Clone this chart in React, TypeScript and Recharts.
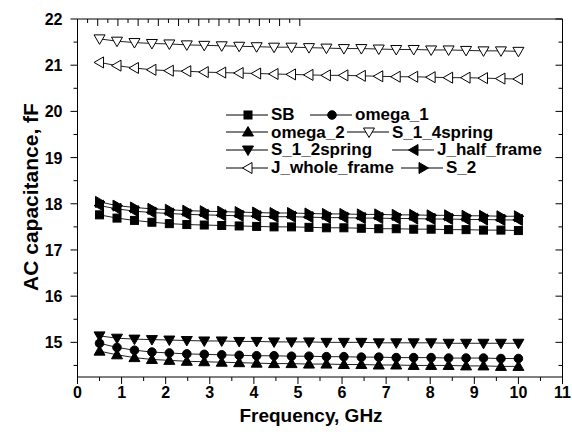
import React from 'react';
import { LineChart, Line, XAxis, YAxis, Legend } from 'recharts';

// frequency points, GHz
const freq = [0.5, 0.896, 1.292, 1.688, 2.083, 2.479, 2.875, 3.271, 3.667, 4.063, 4.458, 4.854, 5.25, 5.646, 6.042, 6.438, 6.833, 7.229, 7.625, 8.021, 8.417, 8.813, 9.208, 9.604, 10.0];

const SB = [17.76, 17.69, 17.64, 17.6, 17.57, 17.55, 17.54, 17.53, 17.52, 17.51, 17.5, 17.5, 17.49, 17.48, 17.48, 17.47, 17.46, 17.46, 17.45, 17.45, 17.44, 17.44, 17.43, 17.43, 17.42];
const omega1 = [14.98, 14.89, 14.83, 14.79, 14.77, 14.75, 14.74, 14.73, 14.72, 14.71, 14.71, 14.7, 14.7, 14.69, 14.69, 14.68, 14.68, 14.67, 14.67, 14.67, 14.66, 14.66, 14.66, 14.65, 14.65];
const omega2 = [14.81, 14.73, 14.67, 14.63, 14.61, 14.59, 14.58, 14.57, 14.56, 14.55, 14.54, 14.54, 14.53, 14.53, 14.52, 14.52, 14.51, 14.51, 14.5, 14.5, 14.5, 14.49, 14.49, 14.48, 14.48];
const s14spring = [21.57, 21.52, 21.49, 21.47, 21.46, 21.44, 21.43, 21.42, 21.41, 21.4, 21.39, 21.39, 21.38, 21.37, 21.36, 21.36, 21.35, 21.34, 21.34, 21.33, 21.33, 21.32, 21.31, 21.31, 21.3];
const s12spring = [15.14, 15.09, 15.07, 15.06, 15.05, 15.04, 15.03, 15.03, 15.02, 15.02, 15.01, 15.01, 15.01, 15.0, 15.0, 15.0, 14.99, 14.99, 14.99, 14.99, 14.98, 14.98, 14.98, 14.98, 14.98];
const jHalf = [17.96, 17.89, 17.84, 17.81, 17.79, 17.77, 17.76, 17.75, 17.74, 17.73, 17.72, 17.72, 17.71, 17.7, 17.7, 17.69, 17.69, 17.68, 17.68, 17.67, 17.67, 17.66, 17.66, 17.65, 17.65];
const jWhole = [21.06, 20.99, 20.94, 20.9, 20.88, 20.87, 20.85, 20.84, 20.83, 20.82, 20.81, 20.8, 20.79, 20.78, 20.78, 20.77, 20.76, 20.75, 20.75, 20.74, 20.73, 20.73, 20.72, 20.71, 20.7];
const s2 = [18.04, 17.96, 17.92, 17.89, 17.87, 17.85, 17.84, 17.83, 17.82, 17.81, 17.8, 17.8, 17.79, 17.78, 17.78, 17.77, 17.77, 17.76, 17.76, 17.75, 17.75, 17.74, 17.74, 17.73, 17.73];

const xTicks = [0, 0.5, 1, 1.5, 2, 2.5, 3, 3.5, 4, 4.5, 5, 5.5, 6, 6.5, 7, 7.5, 8, 8.5, 9, 9.5, 10, 10.5, 11];
const yTicks = [14.5, 15, 15.5, 16, 16.5, 17, 17.5, 18, 18.5, 19, 19.5, 20, 20.5, 21, 21.5, 22];

const series = [
  { key: 'SB', name: 'SB', values: SB, shape: 'square', open: false },
  { key: 'omega_1', name: 'omega_1', values: omega1, shape: 'circle', open: false },
  { key: 'omega_2', name: 'omega_2', values: omega2, shape: 'up', open: false },
  { key: 'S_1_4spring', name: 'S_1_4spring', values: s14spring, shape: 'down', open: true },
  { key: 'S_1_2spring', name: 'S_1_2spring', values: s12spring, shape: 'down', open: false },
  { key: 'J_half_frame', name: 'J_half_frame', values: jHalf, shape: 'left', open: false },
  { key: 'J_whole_frame', name: 'J_whole_frame', values: jWhole, shape: 'left', open: true },
  { key: 'S_2', name: 'S_2', values: s2, shape: 'right', open: false },
];

const data = freq.map((f, i) => {
  const row: any = { f };
  series.forEach(s => { row[s.key] = s.values[i]; });
  return row;
});

const FONT = '"Liberation Sans", Arial, sans-serif';
const isMajor = (v: number) => Math.abs(v - Math.round(v)) < 1e-6;

const Marker = ({ shape, open, cx, cy }: { shape: string; open: boolean; cx: number; cy: number }) => {
  const fill = open ? '#fff' : '#000';
  const common = { fill, stroke: '#000', strokeWidth: 1 };
  const a = 5.5, b = 4;
  if (shape === 'square') return <rect x={cx - 4} y={cy - 4} width={8} height={8} {...common} />;
  if (shape === 'circle') return <circle cx={cx} cy={cy} r={4.3} {...common} />;
  let pts = '';
  if (shape === 'up') pts = `${cx},${cy - a} ${cx + a},${cy + b} ${cx - a},${cy + b}`;
  if (shape === 'down') pts = `${cx - a},${cy - b} ${cx + a},${cy - b} ${cx},${cy + a}`;
  if (shape === 'left') pts = `${cx - a},${cy} ${cx + b},${cy - a} ${cx + b},${cy + a}`;
  if (shape === 'right') pts = `${cx + a},${cy} ${cx - b},${cy - a} ${cx - b},${cy + a}`;
  return <polygon points={pts} {...common} />;
};

const makeDot = (shape: string, open: boolean) => (props: any) => {
  const { cx, cy, index } = props;
  if (cx == null || cy == null) return <g key={index} />;
  return <Marker key={index} shape={shape} open={open} cx={cx} cy={cy} />;
};

const BottomTick = (props: any) => {
  const { x, y, payload } = props;
  const major = isMajor(payload.value);
  return (
    <g>
      <line x1={x} x2={x} y1={y} y2={y + (major ? 7 : 4)} stroke="#000" />
      {major && (
        <text x={x} y={y + 21} textAnchor="middle" fontFamily={FONT} fontWeight="bold" fontSize={16} fill="#000">
          {payload.value}
        </text>
      )}
    </g>
  );
};

const TopTick = (props: any) => {
  const { x, y, payload } = props;
  return <line x1={x} x2={x} y1={y} y2={y + (isMajor(payload.value) ? 7 : 4)} stroke="#000" />;
};

const LeftTick = (props: any) => {
  const { x, y, payload } = props;
  const major = isMajor(payload.value);
  return (
    <g>
      <line x1={x - (major ? 7 : 4)} x2={x} y1={y} y2={y} stroke="#000" />
      {major && (
        <text x={x - 15} y={y + 6} textAnchor="end" fontFamily={FONT} fontWeight="bold" fontSize={16} fill="#000">
          {payload.value}
        </text>
      )}
    </g>
  );
};

const RightTick = (props: any) => {
  const { x, y, payload } = props;
  return <line x1={x - (isMajor(payload.value) ? 7 : 4)} x2={x} y1={y} y2={y} stroke="#000" />;
};

// legend rows; second entry starts at its own offset, as in the original
const legendRows = [
  { items: ['SB', 'omega_1'], second: 84 },
  { items: ['omega_2', 'S_1_4spring'], second: 121 },
  { items: ['S_1_2spring', 'J_half_frame'], second: 166 },
  { items: ['J_whole_frame', 'S_2'], second: 175 },
];

const LegendItem = ({ name }: { name: string }) => {
  const s = series.find(d => d.name === name)!;
  return (
    <div style={{ display: 'flex', alignItems: 'center' }}>
      <svg width={42} height={14}>
        <line x1={0} x2={42} y1={7} y2={7} stroke="#000" strokeWidth={1} />
        <Marker shape={s.shape} open={s.open} cx={22} cy={7} />
      </svg>
      <span style={{ marginLeft: 3, lineHeight: '17px' }}>{name}</span>
    </div>
  );
};

const LegendBox = () => (
  <div style={{ fontFamily: FONT, fontWeight: 'bold', fontSize: 17, color: '#000', width: 330 }}>
    {legendRows.map((row, r) => (
      <div key={r} style={{ position: 'relative', height: 17.7, whiteSpace: 'nowrap' }}>
        <div style={{ position: 'absolute', left: 0, top: 0 }}>
          <LegendItem name={row.items[0]} />
        </div>
        <div style={{ position: 'absolute', left: row.second, top: 0 }}>
          <LegendItem name={row.items[1]} />
        </div>
      </div>
    ))}
  </div>
);

export default function App() {
  return (
    <div style={{ position: 'absolute', left: 0, top: 0, background: '#fff' }}>
      <LineChart width={572} height={445} data={data} margin={{ top: 18, right: 8.5, left: 0, bottom: 0 }}>
        <XAxis
          xAxisId="b"
          dataKey="f"
          type="number"
          domain={[0, 11]}
          ticks={xTicks}
          interval={0}
          tickSize={0}
          tickMargin={0}
          tickLine={false}
          axisLine={{ stroke: '#000' }}
          tick={<BottomTick />}
          height={68}
          allowDataOverflow
          label={() => (
            <text x={311} y={422} textAnchor="middle" fontFamily={FONT} fontWeight="bold" fontSize={19} fill="#000">
              Frequency, GHz
            </text>
          )}
        />
        <XAxis
          xAxisId="t"
          orientation="top"
          type="number"
          domain={[0, 11]}
          ticks={xTicks}
          interval={0}
          tickSize={0}
          tickMargin={0}
          tickLine={false}
          axisLine={{ stroke: '#000' }}
          tick={<TopTick />}
          height={1}
          allowDataOverflow
        />
        <YAxis
          yAxisId="l"
          type="number"
          domain={[14.25, 22]}
          ticks={yTicks}
          interval={0}
          tickSize={0}
          tickMargin={0}
          tickLine={false}
          axisLine={{ stroke: '#000' }}
          tick={<LeftTick />}
          width={77.5}
          allowDataOverflow
          label={() => (
            <text
              x={30}
              y={197}
              transform="rotate(-90 30 197)"
              textAnchor="middle"
              dominantBaseline="central"
              fontFamily={FONT}
              fontWeight="bold"
              fontSize={21}
              fill="#000"
            >
              AC capacitance, fF
            </text>
          )}
        />
        <YAxis
          yAxisId="r"
          orientation="right"
          type="number"
          domain={[14.25, 22]}
          ticks={yTicks}
          interval={0}
          tickSize={0}
          tickMargin={0}
          tickLine={false}
          axisLine={{ stroke: '#000' }}
          tick={<RightTick />}
          width={1}
          allowDataOverflow
        />
        <Legend
          layout="vertical"
          align="center"
          verticalAlign="middle"
          content={() => <LegendBox />}
          wrapperStyle={{ left: 226, top: 106, width: 'auto', height: 'auto' }}
        />
        {series.map(s => (
          <Line
            key={s.key}
            xAxisId="b"
            yAxisId="l"
            dataKey={s.key}
            name={s.name}
            stroke="#222"
            strokeWidth={1}
            dot={makeDot(s.shape, s.open)}
            activeDot={false}
            isAnimationActive={false}
          />
        ))}
      </LineChart>
    </div>
  );
}
